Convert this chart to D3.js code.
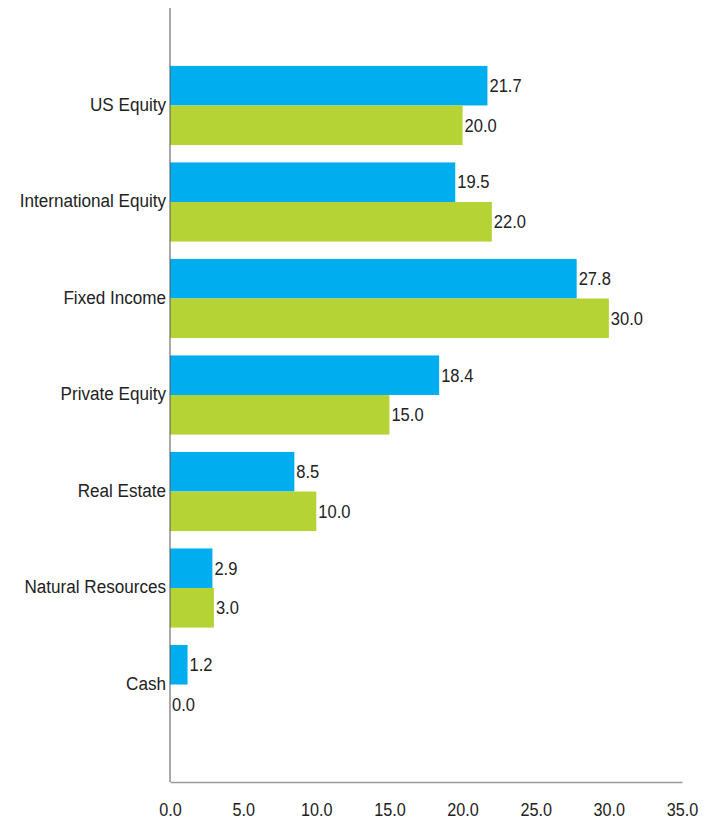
<!DOCTYPE html>
<html>
<head>
<meta charset="utf-8">
<script src="https://cdn.jsdelivr.net/npm/d3@7"></script>
<style>
  html, body { margin: 0; padding: 0; background: #fff; }
  svg text { font-family: "Liberation Sans", Arial, sans-serif; font-size: 19px; fill: #222; }
</style>
</head>
<body>
<svg id="chart" width="719" height="820"></svg>
<script>
const categories = ["US Equity", "International Equity", "Fixed Income", "Private Equity", "Real Estate", "Natural Resources", "Cash"];
const seriesNames = ["Actual", "Target"];
const actualValues = [21.7, 19.5, 27.8, 18.4, 8.5, 2.9, 1.2];
const targetValues = [20.0, 22.0, 30.0, 15.0, 10.0, 3.0, 0.0];
const xTicks = [0, 5, 10, 15, 20, 25, 30, 35];
const colors = ["#00AEEF", "#B5D334"];

(function () {
const svg = d3.select("#chart");
const mLeft = 170, mRight = 682, mTop = 8, mBottom = 782;
const sx = 0.87;

const x = d3.scaleLinear().domain([0, 35]).range([mLeft, mRight]);
const y = d3.scaleBand().domain(categories).range([mTop, mBottom]).paddingInner(0.18).paddingOuter(0.6);
const ySub = d3.scaleBand().domain(seriesNames).range([0, y.bandwidth()]);

const seriesValues = [actualValues, targetValues];
const data = [];
categories.forEach((c, i) => {
  seriesNames.forEach((s, j) => data.push({ cat: c, series: s, value: seriesValues[j][i], color: colors[j] }));
});

// bars
svg.append("g").selectAll("rect").data(data).join("rect")
  .attr("x", x(0))
  .attr("y", d => y(d.cat) + ySub(d.series))
  .attr("width", d => x(d.value) - x(0))
  .attr("height", ySub.bandwidth())
  .attr("fill", d => d.color);

// value labels
svg.append("g").selectAll("text").data(data).join("text")
  .attr("transform", d => `translate(${x(d.value) + 2},${y(d.cat) + ySub(d.series) + ySub.bandwidth() / 2}) scale(${sx},1)`)
  .attr("dy", "0.33em")
  .text(d => d.value.toFixed(1));

// x axis
const xAxis = svg.append("g").attr("transform", `translate(0,${mBottom})`)
  .call(d3.axisBottom(x).tickValues(xTicks).tickSize(0).tickPadding(21).tickFormat(d3.format(".1f")));
xAxis.select(".domain").attr("stroke", "#999").attr("stroke-width", 1.5);
xAxis.selectAll("text").attr("font-family", null).attr("font-size", null)
  .style("fill", "#222").style("font-size", "18px")
  .attr("transform", "scale(0.9,1)");

// y axis
const yAxis = svg.append("g").attr("transform", `translate(${mLeft},0)`)
  .call(d3.axisLeft(y).tickSize(0).tickPadding(0));
yAxis.select(".domain").attr("d", `M0,${mTop}V${mBottom}`).attr("stroke", "#555").attr("stroke-width", 1);
yAxis.selectAll("text").attr("font-family", null).attr("font-size", null)
  .style("fill", "#222")
  .attr("x", 0).attr("dy", "0.28em")
  .attr("transform", "translate(-4,0) scale(0.9,1)");
})();
</script>
</body>
</html>
